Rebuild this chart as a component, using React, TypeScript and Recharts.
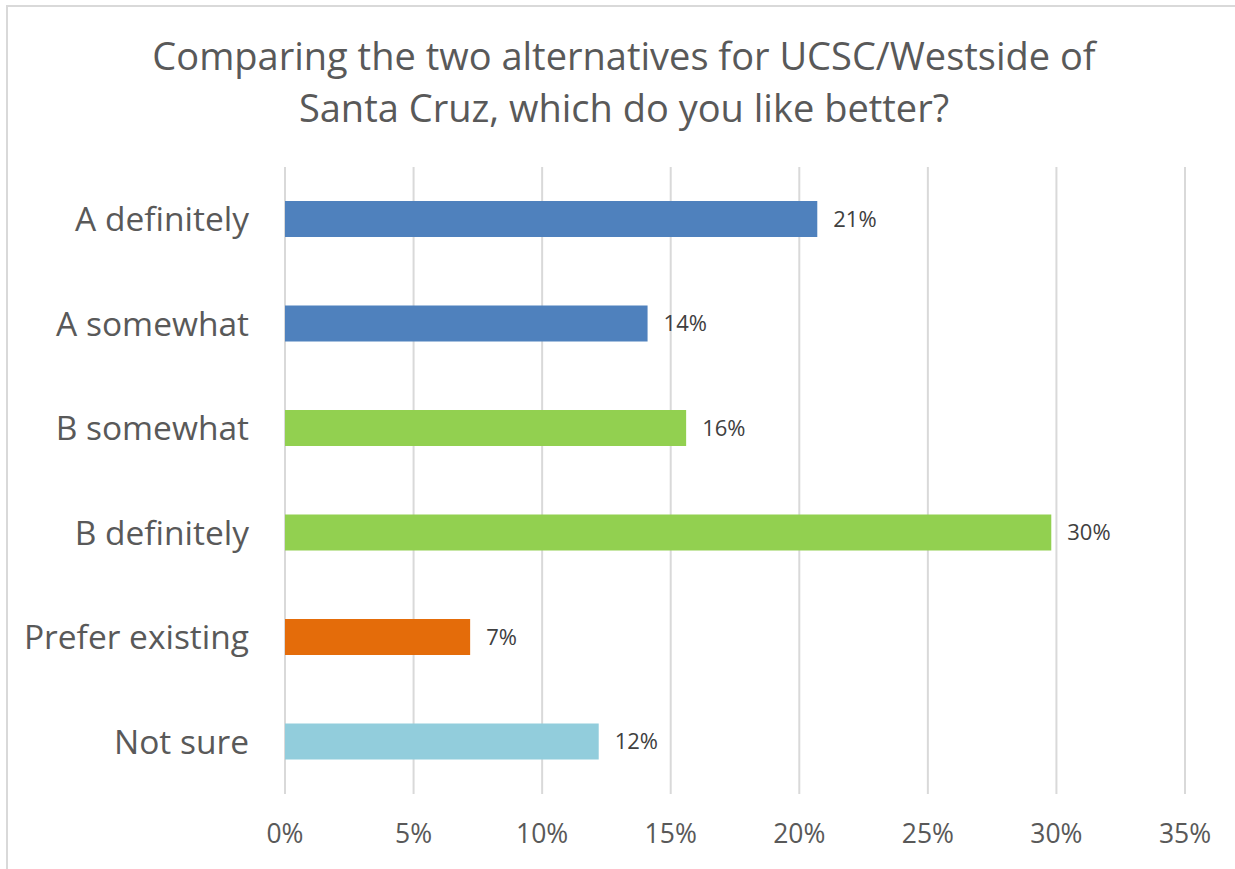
import React from "react";
import { BarChart, Bar, XAxis, YAxis, CartesianGrid, Cell, LabelList } from "recharts";

const categories = ["A definitely", "A somewhat", "B somewhat", "B definitely", "Prefer existing", "Not sure"];
const shares = [0.207, 0.141, 0.156, 0.298, 0.072, 0.122];
const barColors = ["#4F81BD", "#4F81BD", "#92D050", "#92D050", "#E46C0A", "#92CDDC"];
const xTicks = [0, 0.05, 0.1, 0.15, 0.2, 0.25, 0.3, 0.35];
const titleLines = ["Comparing the two alternatives for UCSC/Westside of", "Santa Cruz, which do you like better?"];

const data = categories.map((c, i) => ({ category: c, value: shares[i] }));

const FONT = "'Open Sans', sans-serif";
const pct = (v: number) => `${Math.round(v * 100)}%`;

export default function App() {
  return (
    <div style={{ position: "absolute", left: 0, top: 0, width: 1235, height: 869, overflow: "hidden", background: "#fff" }}>
      <div style={{ position: "absolute", left: 6, top: 5, width: 1300, height: 1000, borderTop: "2px solid #d9d9d9", borderLeft: "2px solid #d9d9d9" }} />
      <div style={{ position: "absolute", left: 0, top: 0, width: 1248, textAlign: "center", fontFamily: FONT, color: "#595959", fontSize: 38, lineHeight: "52px", paddingTop: 29 }}>
        {titleLines.map((t) => (
          <div key={t}>{t}</div>
        ))}
      </div>
      <div style={{ position: "absolute", left: 0, top: 0 }}>
        <BarChart width={1235} height={869} data={data} layout="vertical" margin={{ top: 167, right: 50, bottom: 15, left: 0 }}>
          <CartesianGrid horizontal={false} vertical={true} stroke="#d9d9d9" strokeWidth={2} />
          <XAxis type="number" dataKey="value" domain={[0, 0.35]} ticks={xTicks} tickFormatter={pct} axisLine={false} tickLine={false} height={60} tickMargin={24} tick={{ fill: "#595959", fontSize: 26.5, fontFamily: FONT }} interval={0} />
          <YAxis type="category" dataKey="category" width={285} axisLine={false} tickLine={false} tickMargin={30} tick={{ fill: "#595959", fontSize: 33.5, fontFamily: FONT }} interval={0} />
          <Bar dataKey="value" barSize={36} isAnimationActive={false}>
            {data.map((d, i) => (
              <Cell key={d.category} fill={barColors[i]} />
            ))}
            <LabelList dataKey="value" position="right" offset={16} formatter={(v: number) => pct(v)} style={{ fill: "#404040", fontSize: 22, fontFamily: FONT }} />
          </Bar>
        </BarChart>
      </div>
    </div>
  );
}
